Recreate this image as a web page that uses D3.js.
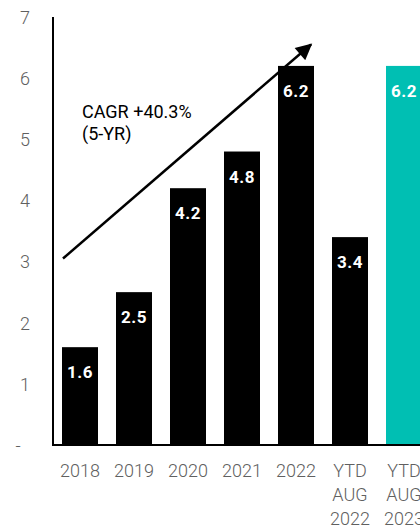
<!DOCTYPE html>
<html>
<head>
<meta charset="utf-8">
<script src="https://cdn.jsdelivr.net/npm/d3@7"></script>
<style>
  body { margin: 0; background: white; }
  svg { display: block; }
</style>
</head>
<body>
<div id="chart"></div>
<script>
// categories, values and ticks
const categories = ["2018", "2019", "2020", "2021", "2022", "YTD AUG 2022", "YTD AUG 2023"];
const values = [1.6, 2.5, 4.2, 4.8, 6.2, 3.4, 6.2];
const highlight = [false, false, false, false, false, false, true];
const yTicks = [0, 1, 2, 3, 4, 5, 6, 7];
const cagrLines = ["CAGR +40.3%", "(5-YR)"];

const w = 420, h = 529;
const margin = {top: 17, bottom: 84, left: 53};
const fontFamily = "Roboto, 'Noto Sans', sans-serif";
const teal = "#00bfb3";
const grey = "#606060";

const data = categories.map((c, i) => ({cat: c, value: values[i], hi: highlight[i]}));

const svg = d3.select("#chart")
  .append("svg")
  .attr("width", w)
  .attr("height", h);

// scales
const x = d3.scaleBand()
  .domain(categories)
  .range([margin.left, margin.left + 378]) // last bar runs off the right edge
  .paddingInner(1/3)
  .paddingOuter(1/6);

const y = d3.scaleLinear()
  .domain([0, 7])
  .range([h - margin.bottom, margin.top]);

// bars
svg.append("g")
  .selectAll("rect")
  .data(data)
  .join("rect")
    .attr("x", d => x(d.cat))
    .attr("y", d => y(d.value))
    .attr("width", x.bandwidth())
    .attr("height", d => y(0) - y(d.value))
    .attr("fill", d => d.hi ? teal : "black");

// value labels inside bars
svg.append("g")
  .selectAll("text")
  .data(data)
  .join("text")
    .attr("x", d => x(d.cat) + x.bandwidth()/2)
    .attr("y", d => y(d.value) + 31)
    .attr("text-anchor", "middle")
    .style("font-family", fontFamily)
    .style("font-size", "17px")
    .style("font-weight", "bold")
    .style("letter-spacing", "0.5px")
    .style("fill", "white")
    .text(d => d3.format(".1f")(d.value));

// y axis (labels only, dash for zero)
const yAxis = svg.append("g")
  .attr("transform", "translate(25,0)")
  .call(d3.axisLeft(y).tickValues(yTicks).tickSize(0).tickPadding(0)
    .tickFormat(d => d === 0 ? "-" : d))
  .call(g => g.select(".domain").remove());

yAxis.selectAll(".tick text")
  .attr("text-anchor", "middle")
  .attr("dy", "0.35em")
  .attr("x", d => d === 0 ? -7 : 0)
  .style("font-family", fontFamily)
  .style("font-size", "18px")
  .style("font-weight", 300)
  .style("fill", grey);

// axis lines
svg.append("line")
  .attr("x1", margin.left).attr("x2", margin.left)
  .attr("y1", y(7)).attr("y2", y(0) + 1)
  .attr("stroke", "black")
  .attr("stroke-width", 2);

svg.append("line")
  .attr("x1", margin.left - 1).attr("x2", w)
  .attr("y1", y(0)).attr("y2", y(0))
  .attr("stroke", "black")
  .attr("stroke-width", 2);

// x labels, multi-line
const xLabels = svg.append("g")
  .selectAll("text")
  .data(categories)
  .join("text")
    .attr("x", d => x(d) + x.bandwidth()/2)
    .attr("y", y(0) + 32)
    .attr("text-anchor", "middle")
    .style("font-family", fontFamily)
    .style("font-size", "18px")
    .style("font-weight", 300)
    .style("fill", grey);

xLabels.selectAll("tspan")
  .data(d => d.split(" "))
  .join("tspan")
    .attr("x", function() { return this.parentNode.getAttribute("x"); })
    .attr("dy", (d, i) => i === 0 ? 0 : 24)
    .text(d => d);

// CAGR arrow from 2018 bar region to above 2022
svg.append("defs")
  .append("marker")
    .attr("id", "arrowhead")
    .attr("viewBox", "0 0 10 10")
    .attr("refX", 9)
    .attr("refY", 5)
    .attr("markerWidth", 7)
    .attr("markerHeight", 6.5)
    .attr("markerUnits", "strokeWidth")
    .attr("orient", "auto")
  .append("path")
    .attr("d", "M0,0 L10,5 L0,10 Z")
    .attr("fill", "black");

svg.append("line")
  .attr("x1", x("2018") + 1)
  .attr("y1", y(3.05))
  .attr("x2", x("2022") + x.bandwidth() - 3)
  .attr("y2", y(6.55))
  .attr("stroke", "black")
  .attr("stroke-width", 2.5)
  .attr("marker-end", "url(#arrowhead)");

// CAGR annotation
svg.append("text")
  .attr("x", 82)
  .attr("y", 118)
  .style("font-family", fontFamily)
  .style("font-size", "18px")
  .style("fill", "black")
  .selectAll("tspan")
  .data(cagrLines)
  .join("tspan")
    .attr("x", 82)
    .attr("dy", (d, i) => i === 0 ? 0 : 22)
    .text(d => d);
</script>
</body>
</html>
